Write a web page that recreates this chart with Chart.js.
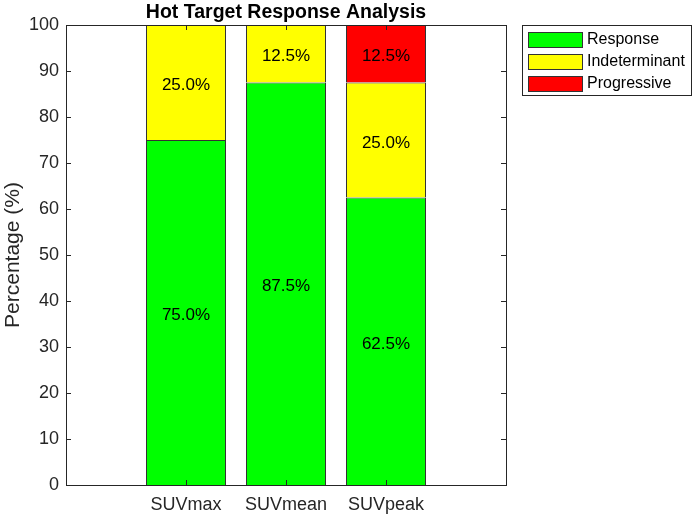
<!DOCTYPE html>
<html>
<head>
<meta charset="utf-8">
<script src="https://cdn.jsdelivr.net/npm/chart.js@4.4.0/dist/chart.umd.min.js"></script>
<style>
  html, body { margin: 0; padding: 0; background: #fff; }
  #wrap { width: 693px; height: 518px; }
</style>
</head>
<body>
<div id="wrap"><canvas id="hotChart" width="693" height="518"></canvas></div>
<script>
// categories and stacked percentages
const categories = ['SUVmax', 'SUVmean', 'SUVpeak'];
const catPos = [1, 2, 3];
const responseVals = [75.0, 87.5, 62.5];
const indeterminantVals = [25.0, 12.5, 25.0];
const progressiveVals = [0, 0, 12.5];
const yTicks = [0, 10, 20, 30, 40, 50, 60, 70, 80, 90, 100];

const axisColor = '#262626';
const fontFam = '"Liberation Sans", Arial, Helvetica, sans-serif';

function toPoints(vals) {
    return vals.map((v, i) => ({ x: catPos[i], y: v }));
}

// box, inward ticks, title, segment labels and legend (MATLAB look)
const matlabLook = {
    id: 'matlabLook',
    afterDraw(chart) {
        const ctx = chart.ctx;
        const a = chart.chartArea;
        const xs = chart.scales.x, ys = chart.scales.y;
        ctx.save();

        // segment labels
        ctx.fillStyle = '#000';
        ctx.font = '17px ' + fontFam;
        ctx.textAlign = 'center';
        ctx.textBaseline = 'middle';
        chart.data.datasets.forEach((ds, di) => {
            const meta = chart.getDatasetMeta(di);
            meta.data.forEach((bar, i) => {
                const v = ds.data[i].y;
                if (!v) return;
                ctx.fillText(v.toFixed(1) + '%', bar.x, (bar.y + bar.base) / 2 + 3);
            });
        });

        // axes box
        ctx.strokeStyle = axisColor;
        ctx.lineWidth = 1;
        ctx.strokeRect(Math.round(a.left) + 0.5, Math.round(a.top) + 0.5,
            Math.round(a.right - a.left), Math.round(a.bottom - a.top));

        // inward ticks
        const tl = 5;
        ctx.beginPath();
        yTicks.forEach(t => {
            const y = Math.round(ys.getPixelForValue(t)) + 0.5;
            ctx.moveTo(a.left, y); ctx.lineTo(a.left + tl, y);
            ctx.moveTo(a.right, y); ctx.lineTo(a.right - tl, y);
        });
        catPos.forEach(p => {
            const x = Math.round(xs.getPixelForValue(p)) + 0.5;
            ctx.moveTo(x, a.bottom); ctx.lineTo(x, a.bottom - tl);
            ctx.moveTo(x, a.top); ctx.lineTo(x, a.top + tl);
        });
        ctx.stroke();

        // title
        ctx.fillStyle = '#000';
        ctx.font = 'bold 19.5px ' + fontFam;
        ctx.textAlign = 'center';
        ctx.textBaseline = 'alphabetic';
        ctx.fillText('Hot Target Response Analysis', (a.left + a.right) / 2, 18);

        // legend
        const lx = 522, ly = 25, lw = 169, lh = 70;
        ctx.fillStyle = '#fff';
        ctx.fillRect(lx, ly, lw, lh);
        ctx.strokeStyle = '#262626';
        ctx.strokeRect(lx + 0.5, ly + 0.5, lw, lh);
        ctx.font = '16px ' + fontFam;
        ctx.textAlign = 'left';
        ctx.textBaseline = 'middle';
        chart.data.datasets.forEach((ds, di) => {
            const cy = ly + 14 + di * 22;
            ctx.fillStyle = ds.backgroundColor;
            ctx.fillRect(lx + 6, cy - 7, 54, 15);
            ctx.strokeStyle = '#333';
            ctx.strokeRect(lx + 6.5, cy - 6.5, 54, 15);
            ctx.fillStyle = '#000';
            ctx.fillText(ds.label, lx + 65, cy + 1);
        });
        ctx.restore();
    }
};

const barStyle = {
    borderColor: '#333333',
    borderWidth: 1,
    categoryPercentage: 0.8,
    barPercentage: 1.0
};

new Chart(document.getElementById('hotChart').getContext('2d'), {
    type: 'bar',
    data: {
        datasets: [
            Object.assign({ label: 'Response', data: toPoints(responseVals), backgroundColor: '#00ff00' }, barStyle),
            Object.assign({ label: 'Indeterminant', data: toPoints(indeterminantVals), backgroundColor: '#ffff00' }, barStyle),
            Object.assign({ label: 'Progressive', data: toPoints(progressiveVals), backgroundColor: '#ff0000' }, barStyle)
        ]
    },
    options: {
        responsive: false,
        animation: false,
        layout: { padding: { left: 0, right: 187, top: 25, bottom: 0 } },
        plugins: {
            legend: { display: false },
            title: { display: false },
            tooltip: { enabled: false }
        },
        scales: {
            x: {
                type: 'linear',
                stacked: true,
                offset: false,
                min: -0.2,
                max: 4.2,
                grid: { display: false, drawTicks: false, offset: false },
                border: { display: false },
                afterBuildTicks: s => { s.ticks = catPos.map(v => ({ value: v })); },
                afterFit: s => { s.height = 33; },
                ticks: {
                    autoSkip: false,
                    maxRotation: 0,
                    padding: 9,
                    color: axisColor,
                    font: { family: fontFam, size: 18 },
                    callback: v => categories[v - 1]
                }
            },
            y: {
                stacked: true,
                min: 0,
                max: 100,
                grid: { display: false, drawTicks: false },
                border: { display: false },
                afterBuildTicks: s => { s.ticks = yTicks.map(v => ({ value: v })); },
                afterFit: s => { s.width = 66; },
                ticks: {
                    padding: 7,
                    color: axisColor,
                    font: { family: fontFam, size: 18 }
                },
                title: {
                    display: true,
                    text: 'Percentage (%)',
                    color: axisColor,
                    padding: 1,
                    font: { family: fontFam, size: 21 }
                }
            }
        }
    },
    plugins: [matlabLook]
});
</script>
</body>
</html>
